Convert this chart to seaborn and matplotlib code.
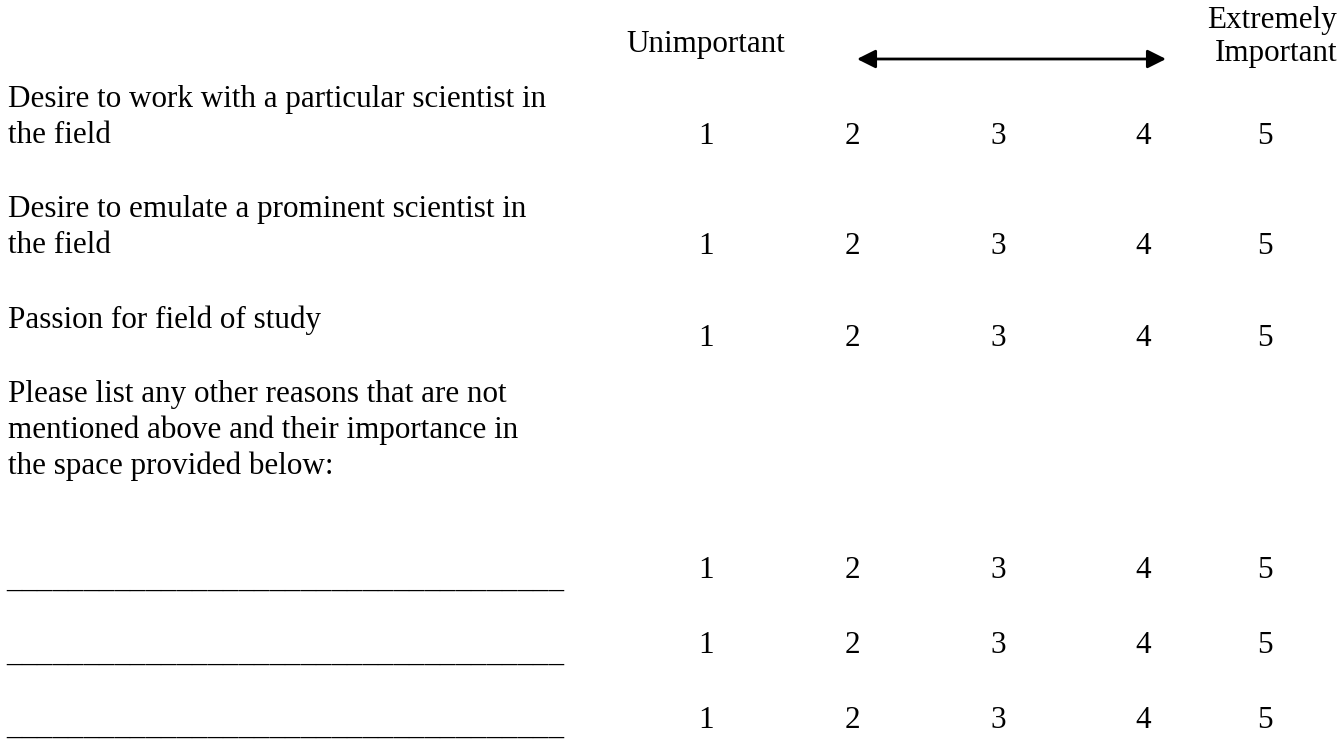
import matplotlib
matplotlib.use("Agg")
import matplotlib.pyplot as plt
import seaborn as sns

# ---- data ----
scale_values = [1, 2, 3, 4, 5]
left_anchor = ["Unimportant"]
right_anchor = ["Extremely", "Important"]
item_lines = [
    ["Desire to work with a particular scientist in", "the field"],
    ["Desire to emulate a prominent scientist in", "the field"],
    ["Passion for field of study"],
]
other_prompt = ["Please list any other reasons that are not",
                "mentioned above and their importance in",
                "the space provided below:"]
blank_rows = 3
blank_line = "_" * 36

# ---- layout (pixel coordinates, y = baseline from top) ----
W, H = 1339, 740
LS = 36
scale_x = [706, 852, 998, 1143, 1265]
item_text_y = [107, 217, 328]
item_num_y = [144, 254, 346]
prompt_y = 402
blank_num_y = [578, 653, 728]
blank_line_y = [587, 661, 734]

sns.set_theme(style="white")
plt.rcParams['font.family'] = ['Liberation Serif', 'DejaVu Serif']
FS = 22.4

fig = plt.figure(figsize=(W / 100, H / 100), dpi=100)
ax = fig.add_axes([0, 0, 1, 1])
ax.set_xlim(0, W)
ax.set_ylim(H, 0)
ax.axis("off")


def put_lines(x, y0, lines, ha="left", ls=LS):
    for k, s in enumerate(lines):
        ax.text(x, y0 + k * ls, s, ha=ha, va="baseline", fontsize=FS, color="black")


put_lines(706, 52, left_anchor, ha="center")
put_lines(1337, 28, right_anchor, ha="right", ls=33)
ax.annotate("", xy=(1166, 59), xytext=(857, 59),
            arrowprops=dict(arrowstyle="<|-|>", color="black", lw=2,
                            mutation_scale=28, shrinkA=0, shrinkB=0))

for lines, ty, ny in zip(item_lines, item_text_y, item_num_y):
    put_lines(8, ty, lines)
    for v, x in zip(scale_values, scale_x):
        ax.text(x, ny, str(v), ha="center", va="baseline", fontsize=FS, color="black")

put_lines(8, prompt_y, other_prompt)

for i in range(blank_rows):
    ax.text(6, blank_line_y[i], blank_line, ha="left", va="baseline", fontsize=FS, color="black")
    for v, x in zip(scale_values, scale_x):
        ax.text(x, blank_num_y[i], str(v), ha="center", va="baseline", fontsize=FS, color="black")

fig.savefig("out.png", dpi=100, facecolor="white")
